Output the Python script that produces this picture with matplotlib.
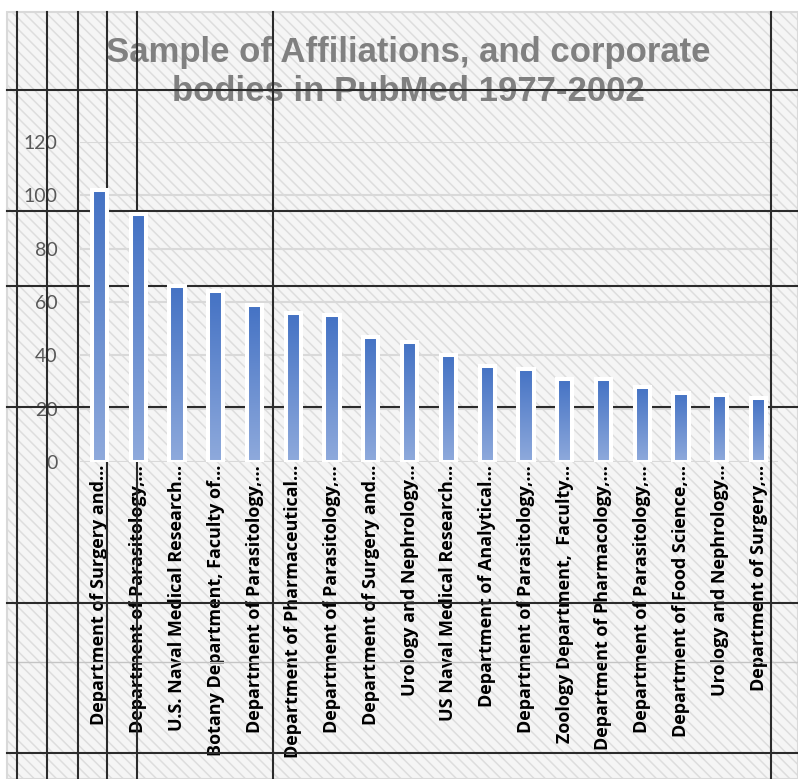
import matplotlib
matplotlib.use("Agg")
import matplotlib.pyplot as plt
import numpy as np
from matplotlib.patches import Rectangle
from matplotlib.lines import Line2D
from matplotlib.colors import LinearSegmentedColormap

categories = [
    "Department of Surgery and...",
    "Department of Parasitology,...",
    "U.S. Naval Medical Research...",
    "Botany Department, Faculty of...",
    "Department of Parasitology,...",
    "Department of Pharmaceutical...",
    "Department of Parasitology,...",
    "Department of Surgery and...",
    "Urology and Nephrology...",
    "US Naval Medical Research...",
    "Department of Analytical...",
    "Department of Parasitology,...",
    "Zoology Department,  Faculty...",
    "Department of Pharmacology,...",
    "Department of Parasitology,...",
    "Department of Food Science,...",
    "Urology and Nephrology...",
    "Department of Surgery,...",
]
values = [102, 93, 66, 64, 59, 56, 55, 47, 45, 40, 36, 35, 31, 31, 28, 26, 25, 24]
yticks = [0, 20, 40, 60, 80, 100, 120]
title = "Sample of Affiliations, and corporate\nbodies in PubMed 1977-2002"

W, H = 798, 779
plt.rcParams['hatch.linewidth'] = 1.1
fig = plt.figure(figsize=(W / 100, H / 100), dpi=100)
fig.patch.set_facecolor("white")

def fx(x):
    return x / W

def fy(y):
    return 1 - y / H

# hatched chart-area background
bg = Rectangle((fx(7), 0), 1 - fx(7), fy(12), transform=fig.transFigure,
               facecolor="#f5f5f5", edgecolor="#dddddd", hatch="\\\\\\", linewidth=0,
               zorder=-2)
fig.add_artist(bg)
border = Rectangle((fx(7), 0), 1 - fx(7), fy(12), transform=fig.transFigure,
                   facecolor="none", edgecolor="#d9d9d9", linewidth=1.5, zorder=-1)
fig.add_artist(border)

ax = fig.add_axes([fx(80), fy(462), fx(778) - fx(80), fy(142) - fy(462)])
ax.set_facecolor("none")
for s in ax.spines.values():
    s.set_visible(False)

# title (behind the overlay lines)
ax.text(fx(408), fy(72), title, transform=fig.transFigure, ha="center", va="center",
        fontsize=25, fontweight="bold", family="Liberation Sans", color="#808080",
        linespacing=1.2, zorder=1.4, clip_on=False)

# overlay dark lines (behind bars)
vx = [17, 47, 78, 107, 137, 273, 771]
hy = [90, 211, 286, 407, 603, 753]
for xv in vx:
    ax.add_artist(Line2D([fx(xv), fx(xv)], [0, fy(12)], transform=fig.transFigure,
                         color="#2b2b2b", lw=1.5, clip_on=False, zorder=1.5))
for yv in hy:
    ax.add_artist(Line2D([fx(7), 1], [fy(yv), fy(yv)], transform=fig.transFigure,
                         color="#2b2b2b", lw=1.5, clip_on=False, zorder=1.5))
ax.add_artist(Line2D([fx(7), 1], [fy(662), fy(662)], transform=fig.transFigure,
                     color="#c4c4c4", lw=1.0, clip_on=False, zorder=1.2))

x = np.arange(len(categories))
bw = 0.39
cmap = LinearSegmentedColormap.from_list("g", ["#8FAADC", "#4472C4"])
grad = np.linspace(0, 1, 256).reshape(-1, 1)
bars = ax.bar(x, values, width=bw, color="none", edgecolor="white",
              linewidth=2.9, zorder=3)
for b, v in zip(bars, values):
    im = ax.imshow(grad, extent=[b.get_x(), b.get_x() + b.get_width(), 0, v],
                   origin="lower", cmap=cmap, aspect="auto", zorder=2.5)
    im.set_clip_path(b)

ax.set_xlim(-0.5, len(categories) - 0.5)
ax.set_ylim(0, 120)
ax.set_yticks(yticks)
ax.set_yticklabels([str(t) for t in yticks], color="#595959", fontsize=14,
                   family="Lato")
ax.tick_params(axis="y", length=0, pad=16)
ax.set_xticks(x)
ax.set_xticklabels(categories, rotation=90, fontsize=13, family="Open Sans",
                   fontweight="bold", color="black", va="top", ha="center")
ax.tick_params(axis="x", length=0, pad=2)
ax.yaxis.grid(True, color="#d9d9d9", lw=1.5, zorder=0.5)
ax.set_axisbelow(True)

fig.savefig("out.png", dpi=100)
